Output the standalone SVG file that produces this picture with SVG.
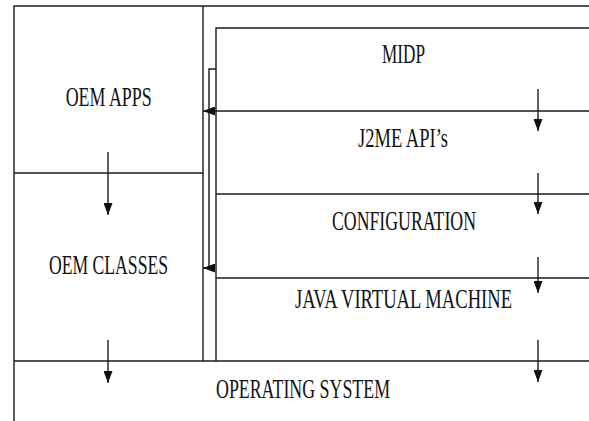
<svg xmlns="http://www.w3.org/2000/svg" width="589" height="421" viewBox="0 0 589 421">
<style>
.ln{stroke:#1a1a1a;stroke-width:1.4;fill:none}
.t{font-family:"Liberation Serif","Times New Roman",serif;font-size:28px;fill:#111}
</style>
<defs>
<marker id="ah" markerUnits="userSpaceOnUse" markerWidth="12" markerHeight="9" refX="12" refY="4.5" orient="auto"><path d="M0,0 L12,4.5 L0,9 z" fill="#111"/></marker>
</defs>
<rect width="589" height="421" fill="#fff"/>
<g id="frame" class="ln">
<path d="M14,421 V6 H589"/>
<path d="M203,6 V361"/>
<path d="M14,361 H589"/>
</g>
<g id="oem-apps"><path class="ln" d="M14,173 H203"/><text class="t" x="65.7" y="106" textLength="86" lengthAdjust="spacingAndGlyphs">OEM APPS</text></g>
<g id="oem-classes"><text class="t" x="49" y="274" textLength="119" lengthAdjust="spacingAndGlyphs">OEM CLASSES</text></g>
<g id="midp"><path class="ln" d="M216,361 V28 H589"/><text class="t" x="382" y="63" textLength="43" lengthAdjust="spacingAndGlyphs">MIDP</text></g>
<g id="j2me"><text class="t" x="358" y="147" textLength="90" lengthAdjust="spacingAndGlyphs">J2ME API’s</text></g>
<g id="configuration"><path class="ln" d="M216,194 H589"/><text class="t" x="332" y="230" textLength="144" lengthAdjust="spacingAndGlyphs">CONFIGURATION</text></g>
<g id="jvm"><path class="ln" d="M216,278 H589"/><text class="t" x="295" y="308" textLength="217" lengthAdjust="spacingAndGlyphs">JAVA VIRTUAL MACHINE</text></g>
<g id="os"><text class="t" x="216" y="398" textLength="174" lengthAdjust="spacingAndGlyphs">OPERATING SYSTEM</text></g>
<g id="connectors" class="ln">
<path d="M589,111 H203" marker-end="url(#ah)"/>
<path d="M216,69 H209 V268 H203" marker-end="url(#ah)"/>
<path d="M108,152 V215" marker-end="url(#ah)"/>
<path d="M108,340 V383" marker-end="url(#ah)"/>
<path d="M538,89 V131" marker-end="url(#ah)"/>
<path d="M538,173 V214" marker-end="url(#ah)"/>
<path d="M538,257 V293" marker-end="url(#ah)"/>
<path d="M538,340 V382" marker-end="url(#ah)"/>
</g>
</svg>
